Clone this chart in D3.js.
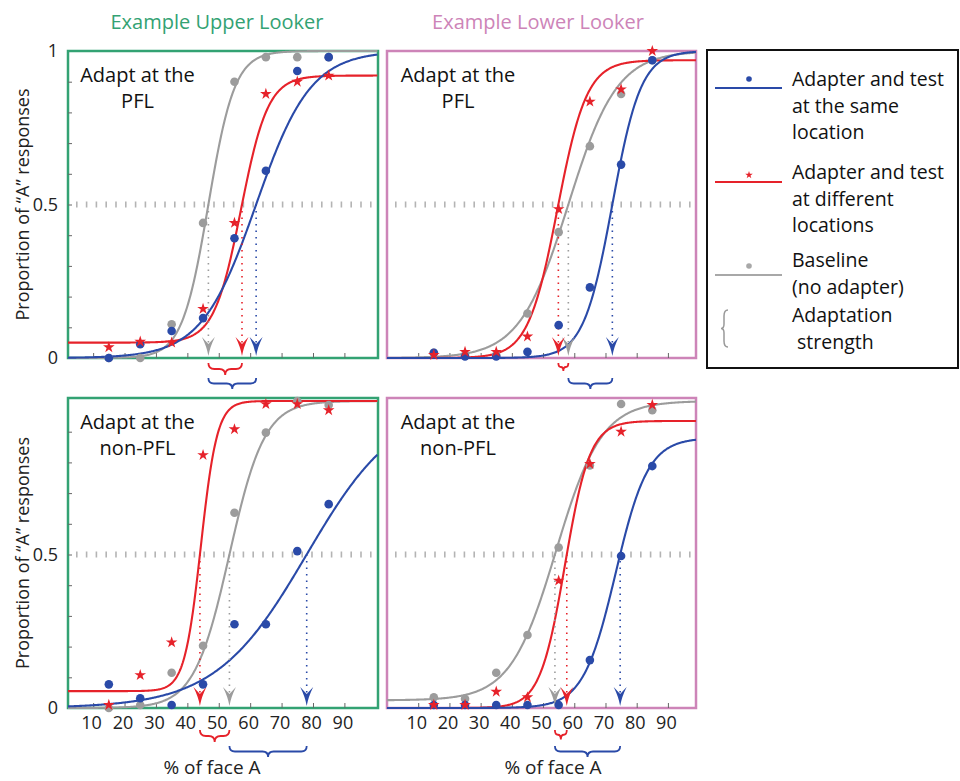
<!DOCTYPE html>
<html>
<head>
<meta charset="utf-8">
<script src="https://cdnjs.cloudflare.com/ajax/libs/d3/7.8.5/d3.min.js"></script>
<style>
  body { margin: 0; background: #fff; }
  text { font-family: 'Open Sans', sans-serif; }
</style>
</head>
<body>
<svg></svg>
<script>
// Dimensions and colours
var width = 960;
var height = 781;
var blue = '#2a4aa8';
var red = '#e6222a';
var gray = '#9c9c9c';
var green = '#33a273';
var pink = '#cd84b8';

// Stimulus levels (% of face A) and tick values
var stimLevels = [15, 25, 35, 45, 55, 65, 75, 85];
var xTickValues = [10, 20, 30, 40, 50, 60, 70, 80, 90];
var yMinorTicks = [0.1, 0.2, 0.3, 0.4, 0.5, 0.6, 0.7, 0.8, 0.9];

var columnTitles = ['Example Upper Looker', 'Example Lower Looker'];
var rowLabels = ['PFL', 'non-PFL'];

// Proportion of "A" responses, one value per stimulus level
var upperPflSame = [0, 0.045, 0.088, 0.13, 0.39, 0.61, 0.935, 0.98];
var upperPflDiff = [0.035, 0.053, 0.05, 0.16, 0.44, 0.86, 0.90, 0.92];
var upperPflBase = [0, 0, 0.11, 0.44, 0.90, 0.98, 0.98, 0.98];

var lowerPflSame = [0.017, 0.005, 0.005, 0.02, 0.107, 0.23, 0.63, 0.97];
var lowerPflDiff = [0.01, 0.02, 0.02, 0.07, 0.485, 0.835, 0.875, 1.0];
var lowerPflBase = [0.017, 0.01, 0.01, 0.145, 0.41, 0.69, 0.86, 0.97];

var upperNonSame = [0.077, 0.032, 0.01, 0.077, 0.273, 0.273, 0.511, 0.664];
var upperNonDiff = [0.01, 0.107, 0.214, 0.824, 0.908, 0.99, 0.99, 0.97];
var upperNonBase = [0, 0.01, 0.115, 0.203, 0.636, 0.897, 1.0, 0.987];

var lowerNonSame = [0.01, 0.01, 0.01, 0.01, 0.01, 0.156, 0.495, 0.788];
var lowerNonDiff = [0.01, 0.01, 0.053, 0.035, 0.415, 0.795, 0.9, 0.987];
var lowerNonBase = [0.035, 0.03, 0.115, 0.238, 0.523, 0.79, 0.99, 0.97];

// Fitted curves, order: [same, different, baseline]
// point of subjective equality (where the curve crosses 0.5)
var upperPflPse = [61.9, 57.4, 46.7];
var upperPflSpread = [8.7, 4.3, 4.2];
var upperPflFloor = [0, 0.05, 0];
var upperPflCeil = [1, 0.92, 1];

var lowerPflPse = [72.2, 54.9, 58.1];
var lowerPflSpread = [4.6, 4.7, 7.8];
var lowerPflFloor = [0, 0, 0];
var lowerPflCeil = [1, 0.97, 1];

var upperNonPse = [78.0, 44.0, 53.4];
var upperNonSpread = [14.5, 2.6, 5.6];
var upperNonFloor = [0, 0.055, 0];
var upperNonCeil = [1, 1, 1];

var lowerNonPse = [74.7, 57.6, 53.8];
var lowerNonSpread = [5.2, 4.0, 7.3];
var lowerNonFloor = [0, 0, 0.025];
var lowerNonCeil = [0.88, 0.935, 1];

var legendLabels = [
  ['Adapter and test', 'at the same', 'location'],
  ['Adapter and test', 'at different', 'locations'],
  ['Baseline', '(no adapter)'],
  ['Adaptation', ' strength']
];

// Layout
var colX = [[68, 378], [387, 696]];
var colDomain = [[2, 100.7], [0, 99]];
var rowY = [[51, 358], [398, 708]];
var rowRange = [[358, 51], [708, 401]];

var panels = [
  {col: 0, row: 0, series: [upperPflSame, upperPflDiff, upperPflBase], pse: upperPflPse, spread: upperPflSpread, floor: upperPflFloor, ceil: upperPflCeil},
  {col: 1, row: 0, series: [lowerPflSame, lowerPflDiff, lowerPflBase], pse: lowerPflPse, spread: lowerPflSpread, floor: lowerPflFloor, ceil: lowerPflCeil},
  {col: 0, row: 1, series: [upperNonSame, upperNonDiff, upperNonBase], pse: upperNonPse, spread: upperNonSpread, floor: upperNonFloor, ceil: upperNonCeil},
  {col: 1, row: 1, series: [lowerNonSame, lowerNonDiff, lowerNonBase], pse: lowerNonPse, spread: lowerNonSpread, floor: lowerNonFloor, ceil: lowerNonCeil}
];
var seriesColors = [blue, red, gray];

var svg = d3.select('svg')
  .attr('width', width)
  .attr('height', height)
  .style('display', 'block');

// logistic psychometric function that passes 0.5 at pse
function psychometric (pse, spread, floor, ceil) {
  var p = (0.5 - floor) / (ceil - floor);
  var mid = pse - spread * Math.log(p / (1 - p));
  return function (x) {
    return floor + (ceil - floor) / (1 + Math.exp(-(x - mid) / spread));
  };
}

// under-brace between x1 and x2, tip pointing down
function hBrace (x1, x2, y0, h) {
  var a = Math.min(x1, x2), b = Math.max(x1, x2);
  var mid = (a + b) / 2;
  var q = Math.min(h / 2, (b - a) / 4);
  var ym = y0 + h / 2;
  return 'M' + a + ',' + y0 +
    'Q' + a + ',' + ym + ' ' + (a + q) + ',' + ym +
    'L' + (mid - q) + ',' + ym +
    'Q' + mid + ',' + ym + ' ' + mid + ',' + (y0 + h) +
    'Q' + mid + ',' + ym + ' ' + (mid + q) + ',' + ym +
    'L' + (b - q) + ',' + ym +
    'Q' + b + ',' + ym + ' ' + b + ',' + y0;
}

var arrowPath = 'M0,0 Q-1.5,-9 -6.5,-19 L0,-12 L6.5,-19 Q1.5,-9 0,0Z';
var star = d3.symbol().type(d3.symbolStar);

// Column titles
svg.selectAll('.col-title')
  .data(columnTitles)
  .enter()
  .append('text')
    .attr('class', 'col-title')
    .attr('x', function (d, i) { return i === 0 ? 217 : 538; })
    .attr('y', 29)
    .attr('text-anchor', 'middle')
    .attr('font-size', 20)
    .attr('fill', function (d, i) { return i === 0 ? green : pink; })
    .text(function (d) { return d; });

panels.forEach(function (p) {
  var x = d3.scaleLinear().domain(colDomain[p.col]).range(colX[p.col]);
  var y = d3.scaleLinear().domain([0, 1]).range(rowRange[p.row]);
  var left = colX[p.col][0], right = colX[p.col][1];
  var top = rowY[p.row][0], bottom = rowY[p.row][1];
  var g = svg.append('g');

  // frame
  g.append('rect')
    .attr('x', left)
    .attr('y', top)
    .attr('width', right - left)
    .attr('height', bottom - top)
    .attr('fill', 'none')
    .attr('stroke', p.col === 0 ? green : pink)
    .attr('stroke-width', 2.5);

  // dashed 0.5 reference line
  g.append('line')
    .attr('x1', left + 8)
    .attr('x2', right - 2)
    .attr('y1', y(0.5))
    .attr('y2', y(0.5))
    .attr('stroke', '#b4b4b4')
    .attr('stroke-width', 6)
    .attr('stroke-dasharray', '1.6,8.2');

  // x ticks inside bottom edge, labels on bottom row only
  var xAxis = d3.axisBottom(x)
    .tickValues(xTickValues)
    .tickSize(-5)
    .tickPadding(8)
    .tickFormat(p.row === 1 ? d3.format('d') : function () { return ''; });

  var xg = g.append('g')
    .attr('transform', 'translate(0,' + bottom + ')')
    .call(xAxis);
  xg.select('.domain').remove();
  xg.selectAll('line').attr('stroke', '#666');
  xg.selectAll('text')
    .attr('dx', -2)
    .attr('font-size', 18)
    .attr('font-family', "'Open Sans', sans-serif")
    .attr('fill', '#222');

  // y ticks and labels on the left column
  if (p.col === 0) {
    var yg = g.append('g')
      .attr('transform', 'translate(' + left + ',0)')
      .call(d3.axisLeft(y).tickValues(yMinorTicks).tickSize(-4).tickFormat(function () { return ''; }));
    yg.select('.domain').remove();
    yg.selectAll('line').attr('stroke', '#666');

    var yl = g.append('g')
      .attr('transform', 'translate(' + left + ',0)')
      .call(d3.axisLeft(y)
        .tickValues(p.row === 0 ? [0, 0.5, 1] : [0, 0.5])
        .tickSize(0)
        .tickPadding(10)
        .tickFormat(function (d) { return d === 0.5 ? '0.5' : d; }));
    yl.select('.domain').remove();
    yl.selectAll('text')
      .attr('font-size', 18)
      .attr('font-family', "'Open Sans', sans-serif")
      .attr('fill', '#222');

    svg.append('text')
      .attr('text-anchor', 'middle')
      .attr('transform', 'translate(29,' + ((top + bottom) / 2) + ')rotate(-90)')
      .attr('font-size', 18)
      .attr('fill', '#222')
      .text('Proportion of \u201CA\u201D responses');
  }

  // x axis title on the bottom row
  if (p.row === 1) {
    svg.append('text')
      .attr('x', p.col === 0 ? 212 : 553)
      .attr('y', 774)
      .attr('text-anchor', 'middle')
      .attr('font-size', 19)
      .attr('fill', '#222')
      .text('% of face A');
  }

  // panel label
  var lab = g.append('text')
    .attr('text-anchor', 'middle')
    .attr('font-size', 20)
    .attr('fill', '#111');
  lab.append('tspan')
    .attr('x', p.col === 0 ? 137.5 : 458)
    .attr('y', top + 31)
    .text('Adapt at the');
  lab.append('tspan')
    .attr('x', p.col === 0 ? 137.5 : 458)
    .attr('y', top + 57)
    .text(rowLabels[p.row]);

  // fitted curves (gray, red, blue)
  [2, 1, 0].forEach(function (s) {
    var f = psychometric(p.pse[s], p.spread[s], p.floor[s], p.ceil[s]);
    var xs = d3.range(colDomain[p.col][0], colDomain[p.col][1] + 0.01, 0.25);
    var line = d3.line()
      .x(function (d) { return x(d); })
      .y(function (d) { return y(f(d)); });
    g.append('path')
      .datum(xs)
      .attr('d', line)
      .attr('fill', 'none')
      .attr('stroke', seriesColors[s])
      .attr('stroke-width', 2.1);
  });

  // dotted drops and arrowheads at each PSE
  [2, 1, 0].forEach(function (s) {
    var px = x(p.pse[s]);
    g.append('line')
      .attr('x1', px)
      .attr('x2', px)
      .attr('y1', y(0.5))
      .attr('y2', bottom - 14)
      .attr('stroke', seriesColors[s])
      .attr('stroke-width', 1.6)
      .attr('stroke-dasharray', '1.5,5');
  });
  [2, 1, 0].forEach(function (s) {
    g.append('path')
      .attr('d', arrowPath)
      .attr('transform', 'translate(' + x(p.pse[s]) + ',' + (bottom - 2) + ')')
      .attr('fill', seriesColors[s]);
  });

  // data points
  [2, 0].forEach(function (s) {
    g.selectAll('.pt' + s)
      .data(p.series[s])
      .enter()
      .append('circle')
        .attr('class', 'pt' + s)
        .attr('cx', function (d, i) { return x(stimLevels[i]); })
        .attr('cy', function (d) { return y(d); })
        .attr('r', 4.3)
        .attr('fill', seriesColors[s]);
  });
  g.selectAll('.pt1')
    .data(p.series[1])
    .enter()
    .append('path')
      .attr('class', 'pt1')
      .attr('d', star.size(42))
      .attr('transform', function (d, i) { return 'translate(' + x(stimLevels[i]) + ',' + y(d) + ')'; })
      .attr('fill', red);

  // adaptation strength braces
  var braceTop = p.row === 0 ? [bottom + 5, bottom + 20] : [bottom + 22, bottom + 38];
  var redSpan = Math.abs(x(p.pse[1]) - x(p.pse[2]));
  g.append('path')
    .attr('d', hBrace(x(p.pse[2]), x(p.pse[1]), braceTop[0], Math.min(12, redSpan * 0.8)))
    .attr('fill', 'none')
    .attr('stroke', red)
    .attr('stroke-width', 1.8);
  g.append('path')
    .attr('d', hBrace(x(p.pse[2]), x(p.pse[0]), braceTop[1], 11))
    .attr('fill', 'none')
    .attr('stroke', blue)
    .attr('stroke-width', 1.8);
});

// Legend
var legend = svg.append('g');
legend.append('rect')
  .attr('x', 707)
  .attr('y', 50)
  .attr('width', 251)
  .attr('height', 318)
  .attr('fill', 'none')
  .attr('stroke', '#111')
  .attr('stroke-width', 2);

var legendTextY = [79, 172, 260, 315];
var legendLineY = [88, 182, 275];
var legendMarkY = [79, 175, 266];
var legendColors = [blue, red, '#a8a8a8'];

legendLabels.forEach(function (lines, i) {
  var t = legend.append('text')
    .attr('font-size', 19.5)
    .attr('fill', '#111')
    .attr('xml:space', 'preserve');
  lines.forEach(function (l, j) {
    t.append('tspan')
      .attr('x', 792)
      .attr('y', legendTextY[i] + 7 + j * 26.5)
      .text(l);
  });
  if (i < 3) {
    legend.append('line')
      .attr('x1', 715)
      .attr('x2', 782)
      .attr('y1', legendLineY[i])
      .attr('y2', legendLineY[i])
      .attr('stroke', legendColors[i])
      .attr('stroke-width', 1.8);
    if (i === 1) {
      legend.append('path')
        .attr('d', star.size(18))
        .attr('transform', 'translate(749,' + legendMarkY[i] + ')')
        .attr('fill', red);
    } else {
      legend.append('circle')
        .attr('cx', 749)
        .attr('cy', legendMarkY[i])
        .attr('r', 2.8)
        .attr('fill', legendColors[i]);
    }
  }
});

// legend brace "{"
legend.append('path')
  .attr('d', 'M728,310 Q724,310 724,316 L724,324 Q724,328.5 721,328.5 Q724,328.5 724,333 L724,341 Q724,347 728,347')
  .attr('fill', 'none')
  .attr('stroke', '#999')
  .attr('stroke-width', 1.5);
</script>
</body>
</html>
